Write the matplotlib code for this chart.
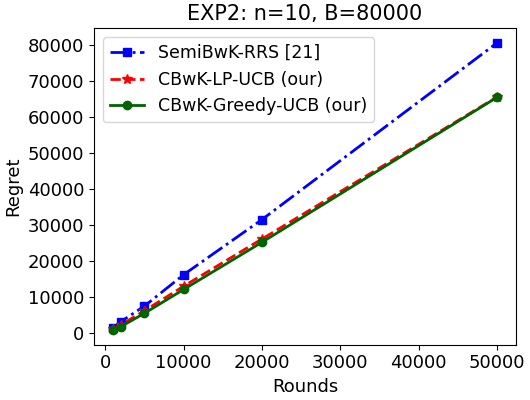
import numpy as np
import matplotlib
matplotlib.use("Agg")
import matplotlib.pyplot as plt
from matplotlib.ticker import MultipleLocator

# Data
rounds = [1000, 2000, 5000, 10000, 20000, 50000]
semi_rrs = [1600, 3300, 7600, 16300, 31600, 80600]
lp_ucb = [1200, 2400, 6300, 13100, 26200, 65600]
greedy_ucb = [900, 1900, 5600, 12200, 25300, 65500]

fig = plt.figure(figsize=(5.3, 4), dpi=100)
ax = plt.gca()

ax.plot(rounds, semi_rrs, color='blue', linestyle='-.', marker='s', lw=2, ms=6, label='SemiBwK-RRS [21]')
ax.plot(rounds, lp_ucb, color='red', linestyle='--', marker='*', lw=2, ms=7, label='CBwK-LP-UCB (our)')
ax.plot(rounds, greedy_ucb, color='darkgreen', linestyle='-', marker='o', lw=2, ms=6, label='CBwK-Greedy-UCB (our)')

ax.set_title('EXP2: n=10, B=80000', fontsize=15)
ax.set_xlabel('Rounds', fontsize=13)
ax.set_ylabel('Regret', fontsize=13)
ax.yaxis.set_major_locator(MultipleLocator(10000))
ax.tick_params(labelsize=13)
ax.legend(fontsize=12.5, loc='upper left')

plt.tight_layout(pad=0.3)
plt.savefig('out.png', dpi=100)
